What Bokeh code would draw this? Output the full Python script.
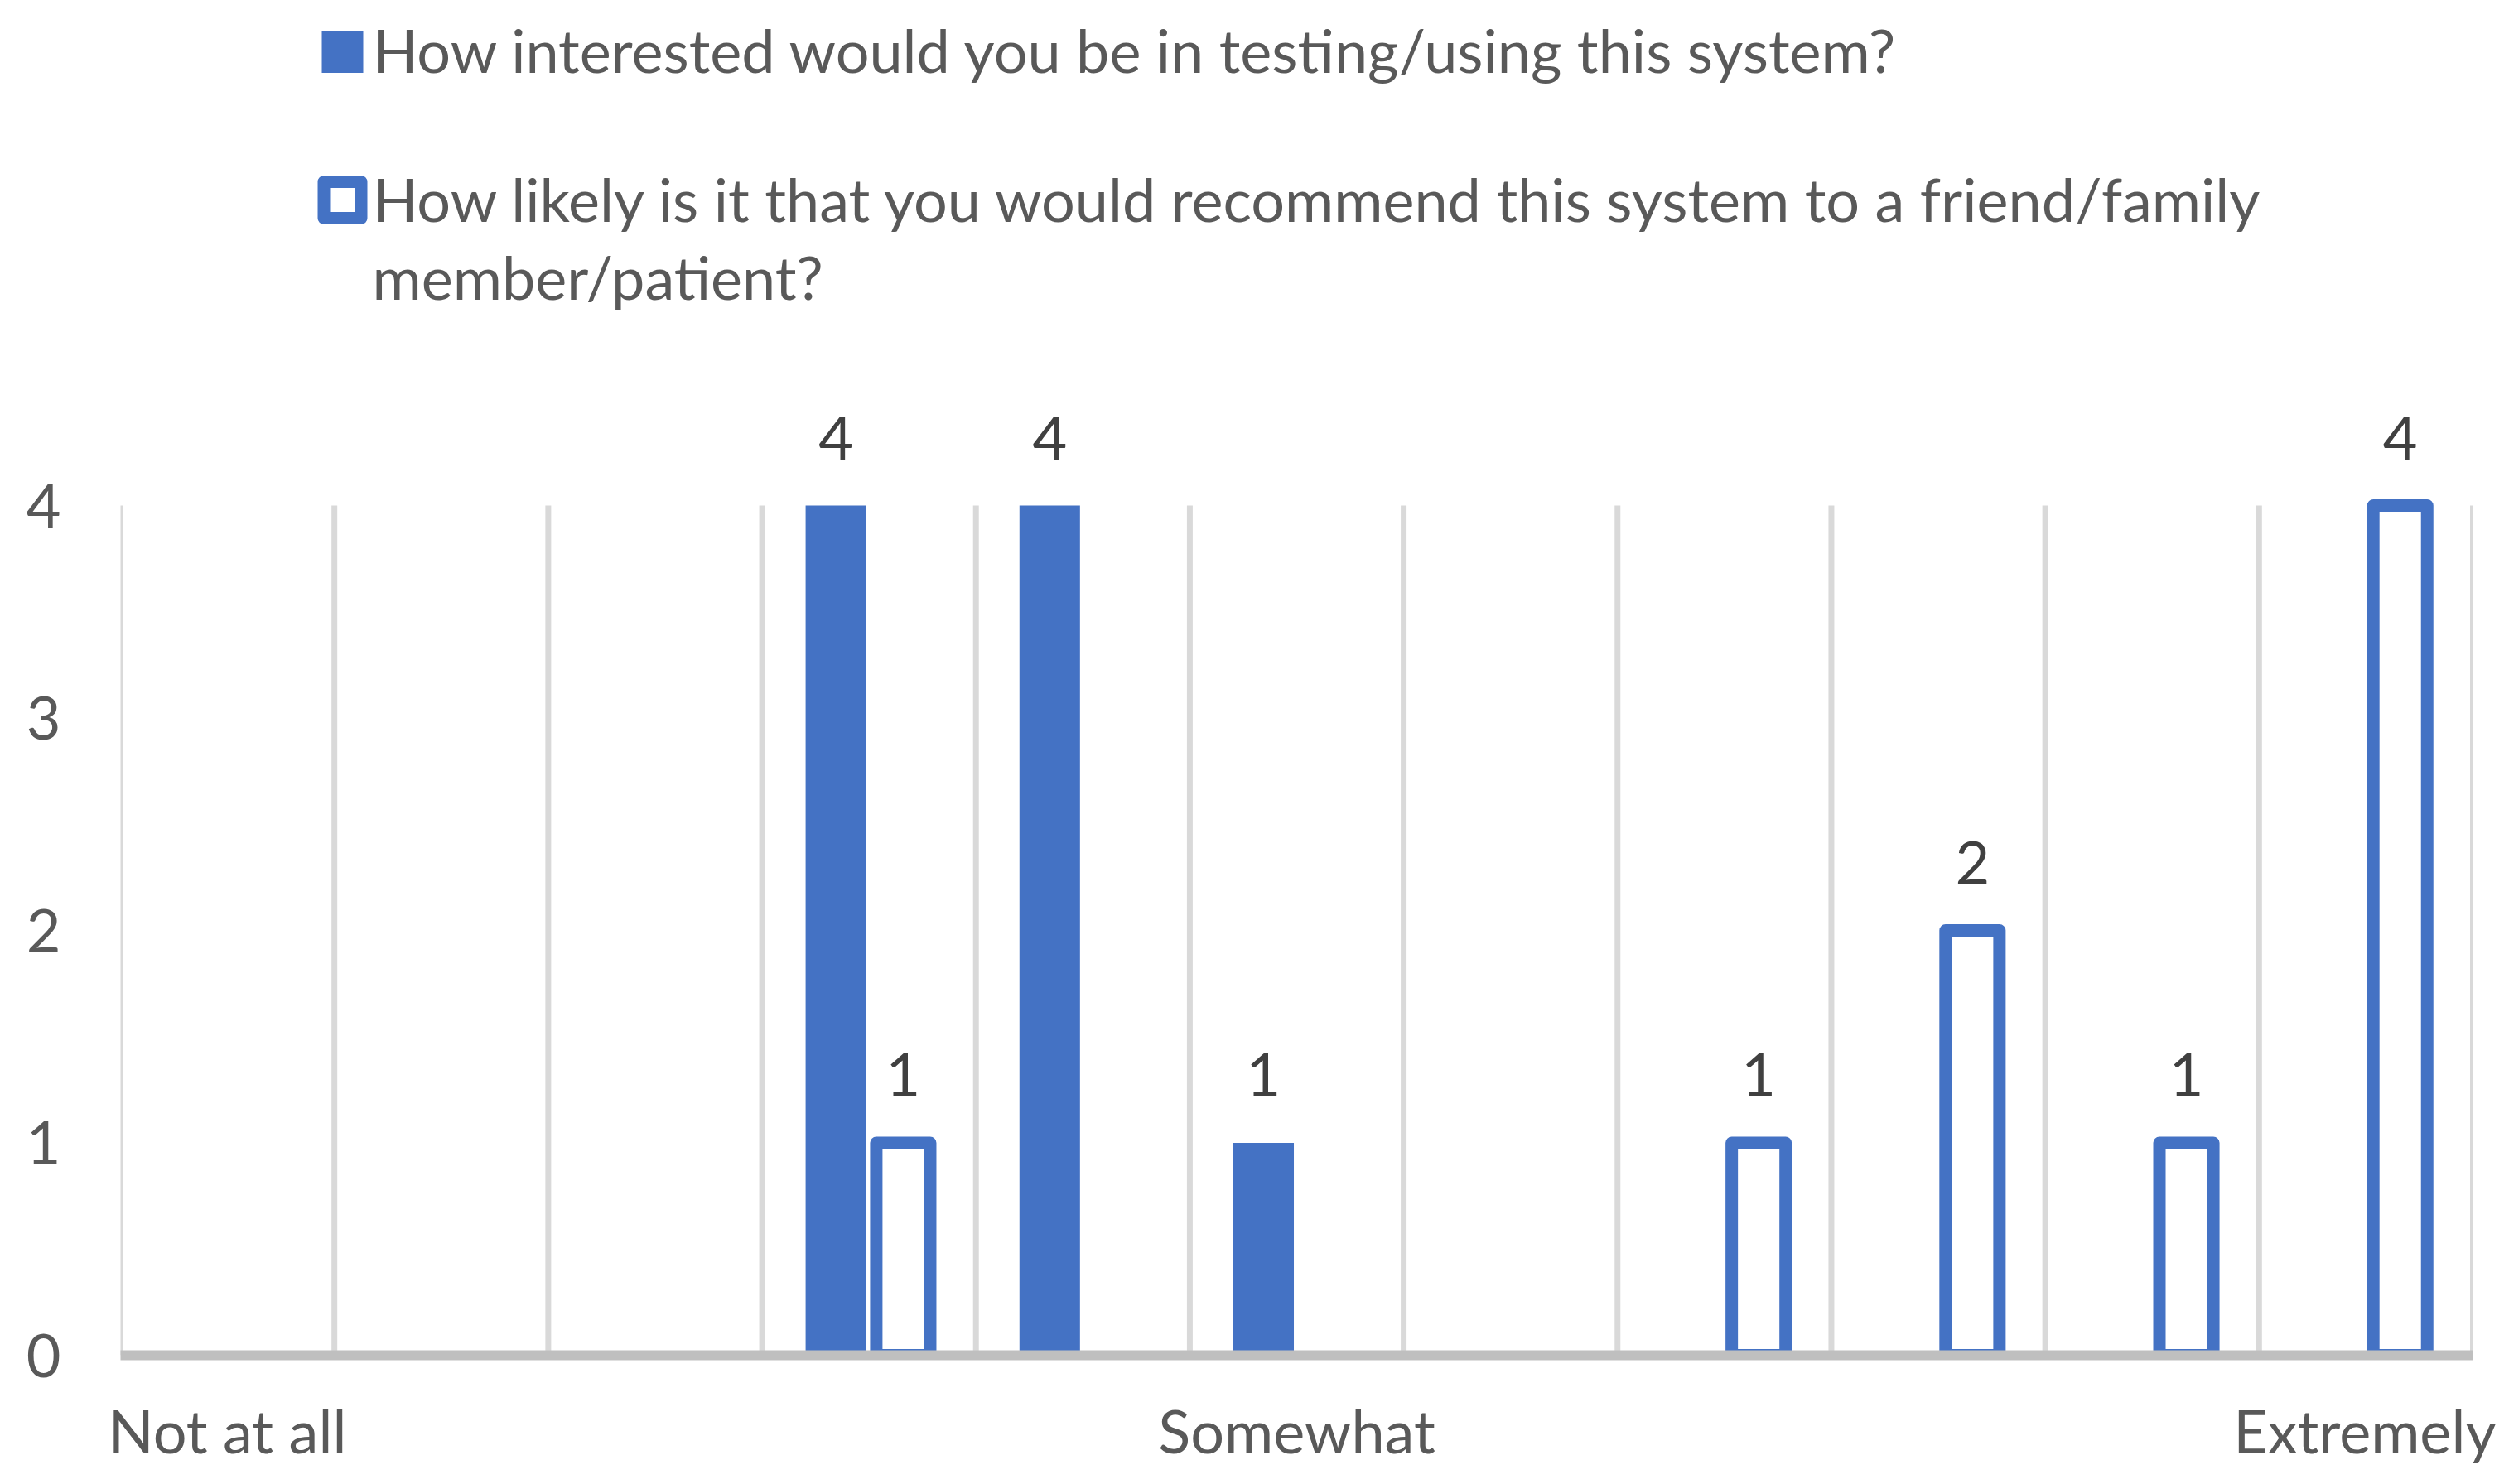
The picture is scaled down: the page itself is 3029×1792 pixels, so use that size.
from bokeh.plotting import figure
from bokeh.models import Range1d, FixedTicker
from bokeh.embed import file_html
from bokeh.resources import INLINE
from bokeh.core.properties import value

# ---------------- data ----------------
categories = list(range(1, 12))
cat_labels = ["Not at all", "", "", "", "", "Somewhat", "", "", "", "", "Extremely"]
interested = [0, 0, 0, 4, 4, 1, 0, 0, 0, 0, 0]
recommend = [0, 0, 0, 1, 0, 0, 0, 1, 2, 1, 4]
series_names = [
    "How interested would you be in testing/using this system?",
    "How likely is it that you would recommend this system to a friend/family member/patient?",
]
legend_lines = [
    ["How interested would you be in testing/using this system?"],
    ["How likely is it that you would recommend this system to a friend/family", "member/patient?"],
]
y_ticks = [0, 1, 2, 3, 4]

# ---------------- style / layout ----------------
BLUE = "#4472C4"
FONT = "Lato"
FS = "72px"
TXT = "#595959"
LBL = "#404040"
BASE_FIX = -23          # alphabetic-baseline correction (px)

W, H = 3013, 1776
LEFT, RIGHT_B, BOTTOM_B = 145, 28, 140
FRAME_R = W - RIGHT_B
FRAME_B = H - BOTTOM_B          # pixel row of value 0
Y_TOP_PX = 610                  # pixel row of the top tick value
px_per_unit = (FRAME_B - Y_TOP_PX) / max(y_ticks)
px_per_cat = (FRAME_R - LEFT) / len(categories)
y_end = FRAME_B / px_per_unit


def px_x(px):
    return 0.5 + (px - LEFT) / px_per_cat


def px_y(py):
    return (FRAME_B - py) / px_per_unit


p = figure(width=W, height=H, x_range=Range1d(0.5, len(categories) + 0.5),
           y_range=Range1d(0, y_end),
           output_backend="svg", toolbar_location=None,
           min_border_left=LEFT, min_border_right=RIGHT_B, min_border_top=0,
           min_border_bottom=BOTTOM_B, outline_line_color=None)
for g in p.grid:
    g.visible = False

# vertical category gridlines
bounds = [c - 0.5 for c in categories] + [categories[-1] + 0.5]
p.segment(x0=bounds, y0=[0] * len(bounds), x1=bounds, y1=[max(y_ticks)] * len(bounds),
          line_color="#d9d9d9", line_width=7)

# bars
off1, off2 = -0.155, 0.16
x1 = [c + off1 for c, v in zip(categories, interested) if v > 0]
t1 = [v for v in interested if v > 0]
x2 = [c + off2 for c, v in zip(categories, recommend) if v > 0]
t2 = [v for v in recommend if v > 0]

p.vbar(x=x1, top=t1, width=0.283, fill_color=BLUE, line_color=None)
p.vbar(x=x2, top=t2, width=0.252, fill_color="white", line_color=BLUE,
       line_width=15, line_join="round")

# data labels
p.text(x=x1 + x2, y=t1 + t2, text=[str(v) for v in t1 + t2], text_font=value(FONT),
       text_font_size=FS, text_color=LBL, text_align="center", text_baseline="alphabetic",
       y_offset=-59 + BASE_FIX)

# legend (drawn by hand above the bars)
sw_px = 413
p.rect(x=[px_x(sw_px)], y=[px_y(62)], width=50, height=51,
       width_units="screen", height_units="screen", fill_color=BLUE, line_color=None)
p.rect(x=[px_x(sw_px)], y=[px_y(241)], width=45, height=44,
       width_units="screen", height_units="screen", fill_color="white",
       line_color=BLUE, line_width=15, line_join="round")
baselines = [[82], [262, 356]]
for lines, bls in zip(legend_lines, baselines):
    p.text(x=[px_x(449)] * len(lines), y=[px_y(b) for b in bls], text=lines,
           text_font=value(FONT), text_font_size=FS, text_color=TXT,
           text_align="left", text_baseline="alphabetic", y_offset=BASE_FIX)

# axes
xa = p.xaxis[0]
xa.ticker = FixedTicker(ticks=[c for c, l in zip(categories, cat_labels) if l])
xa.major_label_overrides = {c: l for c, l in zip(categories, cat_labels) if l}
xa.axis_line_color = "#bfbfbf"
xa.axis_line_width = 12
xa.major_tick_line_color = None
xa.minor_tick_line_color = None
xa.major_tick_out = 0
xa.major_tick_in = 0
xa.major_label_text_font = FONT
xa.major_label_text_font_size = FS
xa.major_label_text_color = TXT
xa.major_label_standoff = 47

ya = p.yaxis[0]
ya.ticker = FixedTicker(ticks=y_ticks)
ya.axis_line_color = None
ya.major_tick_line_color = None
ya.minor_tick_line_color = None
ya.major_tick_out = 0
ya.major_tick_in = 0
ya.major_label_text_font = FONT
ya.major_label_text_font_size = FS
ya.major_label_text_color = TXT
ya.major_label_standoff = 72

open("out.html", "w").write(file_html(p, INLINE))
